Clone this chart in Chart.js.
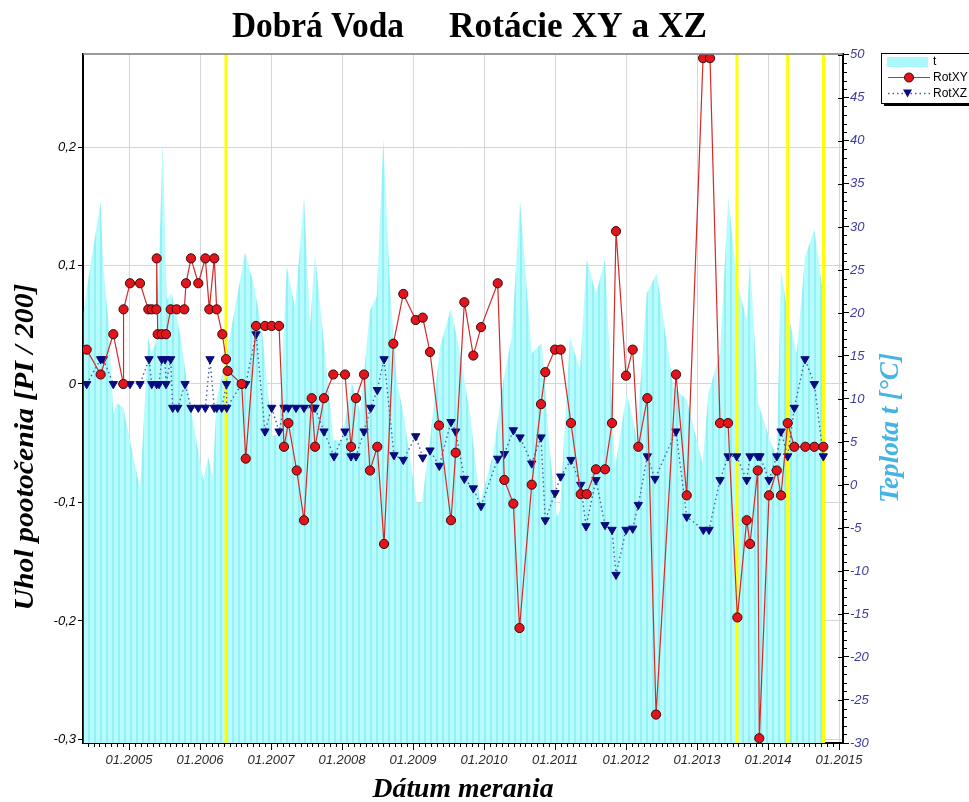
<!DOCTYPE html>
<html>
<head>
<meta charset="utf-8">
<title>Dobrá Voda - Rotácie XY a XZ</title>
<script src="https://cdn.jsdelivr.net/npm/chart.js@4.4.1/dist/chart.umd.min.js"></script>
<style>
    html, body { margin: 0; padding: 0; background: #fff; }
    #wrap { width: 969px; height: 802px; }
</style>
</head>
<body>
<div id="wrap"><canvas id="rotChart" width="969" height="802"></canvas></div>
<script>
// Casy su v desatinnych rokoch (2005.5 = polovica roka 2005)
const rotXYTime = [2004.404, 2004.601, 2004.779, 2004.920, 2004.923, 2005.014, 2005.155, 2005.272, 2005.320, 2005.385,
    2005.390, 2005.404, 2005.461, 2005.521, 2005.587, 2005.672, 2005.779, 2005.803, 2005.873, 2005.976,
    2006.075, 2006.131, 2006.201, 2006.235, 2006.314, 2006.366, 2006.390, 2006.587, 2006.644, 2006.789,
    2006.915, 2007.010, 2007.113, 2007.183, 2007.244, 2007.362, 2007.465, 2007.573, 2007.620, 2007.746,
    2007.877, 2008.042, 2008.127, 2008.197, 2008.310, 2008.394, 2008.497, 2008.592, 2008.723, 2008.863,
    2009.038, 2009.137, 2009.239, 2009.366, 2009.535, 2009.601, 2009.723, 2009.849, 2009.958, 2010.193,
    2010.286, 2010.413, 2010.500, 2010.672, 2010.803, 2010.863, 2011.000, 2011.080, 2011.225, 2011.362,
    2011.446, 2011.577, 2011.704, 2011.803, 2011.859, 2012.000, 2012.094, 2012.173, 2012.300, 2012.423,
    2012.704, 2012.855, 2013.085, 2013.183, 2013.324, 2013.437, 2013.568, 2013.700, 2013.746, 2013.855,
    2013.877, 2014.014, 2014.123, 2014.183, 2014.277, 2014.370, 2014.525, 2014.652, 2014.779];
const rotXYValue = [0.029, 0.008, 0.042, 0.000, 0.063, 0.085, 0.085, 0.063, 0.063, 0.063,
    0.106, 0.042, 0.042, 0.042, 0.063, 0.063, 0.063, 0.085, 0.106, 0.085,
    0.106, 0.063, 0.106, 0.063, 0.042, 0.021, 0.011, 0.000, -0.063, 0.049,
    0.049, 0.049, 0.049, -0.053, -0.033, -0.073, -0.115, -0.012, -0.053, -0.012,
    0.008, 0.008, -0.053, -0.012, 0.008, -0.073, -0.053, -0.135, 0.034, 0.076,
    0.054, 0.056, 0.027, -0.035, -0.115, -0.058, 0.069, 0.024, 0.048, 0.085,
    -0.081, -0.101, -0.206, -0.085, -0.017, 0.010, 0.029, 0.029, -0.033, -0.093,
    -0.093, -0.072, -0.072, -0.033, 0.129, 0.007, 0.029, -0.053, -0.012, -0.279,
    0.008, -0.094, 0.275, 0.275, -0.033, -0.033, -0.197, -0.115, -0.135, -0.073,
    -0.299, -0.094, -0.073, -0.094, -0.033, -0.053, -0.053, -0.053, -0.053];

const rotXZTime = [2004.404, 2004.601, 2004.638, 2004.779, 2004.920, 2005.014, 2005.155, 2005.282, 2005.320, 2005.390,
    2005.423, 2005.461, 2005.507, 2005.521, 2005.587, 2005.615, 2005.686, 2005.789, 2005.873, 2005.976,
    2006.075, 2006.141, 2006.201, 2006.235, 2006.306, 2006.373, 2006.376, 2006.587, 2006.644, 2006.789,
    2006.915, 2007.010, 2007.113, 2007.183, 2007.244, 2007.352, 2007.465, 2007.587, 2007.620, 2007.746,
    2007.887, 2008.042, 2008.127, 2008.197, 2008.310, 2008.404, 2008.497, 2008.592, 2008.732, 2008.863,
    2009.038, 2009.137, 2009.239, 2009.370, 2009.535, 2009.601, 2009.723, 2009.849, 2009.958, 2010.193,
    2010.286, 2010.413, 2010.507, 2010.672, 2010.803, 2010.863, 2011.000, 2011.080, 2011.225, 2011.362,
    2011.437, 2011.577, 2011.704, 2011.803, 2011.859, 2012.000, 2012.094, 2012.173, 2012.300, 2012.408,
    2012.704, 2012.855, 2013.089, 2013.169, 2013.324, 2013.437, 2013.559, 2013.700, 2013.746, 2013.855,
    2013.887, 2014.014, 2014.123, 2014.183, 2014.277, 2014.370, 2014.521, 2014.652, 2014.779];
const rotXZValue = [0, 0.021, 0.021, 0, 0, 0, 0, 0.021, 0, 0,
    0, 0.021, 0.021, 0, 0.021, -0.020, -0.020, 0, -0.020, -0.020,
    -0.020, 0.021, -0.020, -0.020, -0.020, 0, -0.020, 0, 0, 0.042,
    -0.040, -0.020, -0.040, -0.020, -0.020, -0.020, -0.020, -0.020, -0.020, -0.040,
    -0.061, -0.040, -0.061, -0.061, -0.040, -0.020, -0.005, 0.021, -0.060, -0.064,
    -0.044, -0.062, -0.056, -0.069, -0.032, -0.040, -0.080, -0.088, -0.103, -0.063,
    -0.059, -0.039, -0.045, -0.067, -0.045, -0.115, -0.092, -0.078, -0.064, -0.085,
    -0.120, -0.081, -0.119, -0.123, -0.161, -0.123, -0.122, -0.102, -0.061, -0.080,
    -0.040, -0.112, -0.123, -0.123, -0.081, -0.061, -0.061, -0.081, -0.061, -0.061,
    -0.061, -0.081, -0.061, -0.040, -0.061, -0.020, 0.021, 0, -0.061];

const tempTime = [2004.359, 2004.408, 2004.601, 2004.634, 2004.708, 2004.779, 2004.831, 2004.920, 2005.155, 2005.272,
    2005.317, 2005.390, 2005.475, 2005.531, 2005.601, 2005.718, 2005.859, 2006.046, 2006.117, 2006.179,
    2006.235, 2006.376, 2006.634, 2006.751, 2006.869, 2007.014, 2007.113, 2007.221, 2007.338, 2007.465,
    2007.549, 2007.620, 2007.761, 2007.877, 2007.996, 2008.137, 2008.254, 2008.394, 2008.489, 2008.582,
    2008.676, 2008.770, 2008.863, 2009.052, 2009.123, 2009.239, 2009.380, 2009.535, 2009.662, 2009.803,
    2009.944, 2010.131, 2010.272, 2010.390, 2010.507, 2010.672, 2010.813, 2010.930, 2011.024, 2011.070,
    2011.211, 2011.352, 2011.446, 2011.577, 2011.704, 2011.845, 2012.010, 2012.151, 2012.292, 2012.432,
    2012.666, 2012.855, 2013.080, 2013.159, 2013.324, 2013.441, 2013.559, 2013.700, 2013.746, 2013.863,
    2014.028, 2014.123, 2014.183, 2014.263, 2014.404, 2014.521, 2014.652, 2014.779];
const tempValue = [20, 23, 33, 25.8, 19.2, 8.3, 9.5, 9, -0.5, 17.2,
    15.3, 16.9, 40.1, 21.5, 22.3, 17.7, 9.5, 0.6, 3.2, 1,
    10, 15.3, 27, 23.5, 18.4, 5.6, 6, 25.4, 20.7, 33.5,
    18.4, 26.9, 15.3, 5.2, 5.2, 11.9, 8.4, 20.3, 21.9, 40.1,
    23.1, 12.2, 8.4, -2.1, -2.1, 5.2, 16.1, 20.5, 15.3, 8.3,
    -2.1, 3.7, 12.2, 17.2, 33.1, 15.3, 16.5, 3.7, -3.7, -2.9,
    17.2, 13.4, 26.2, 22.3, 26.2, 2, 10.7, 5.6, 22.3, 24.6,
    11.4, 9.9, 2.5, 10.7, 15.3, 33.5, 23.8, 19.2, 26.2, 9.5,
    5.2, 3.3, 25, 20.7, 15.3, 26.5, 29.7, 21.9];

// zlte zvisle ciary (udalosti)
const markerTime = [2006.366, 2013.563, 2014.277, 2014.782];

const yearTicks = [2005, 2006, 2007, 2008, 2009, 2010, 2011, 2012, 2013, 2014, 2015];
const rotTicks = [-0.3, -0.2, -0.1, 0, 0.1, 0.2];
const tempTicks = [-30, -25, -20, -15, -10, -5, 0, 5, 10, 15, 20, 25, 30, 35, 40, 45, 50];

const toPoints = (xs, ys) => xs.map((x, i) => ({ x: x, y: ys[i] }));

// vzor s jemnymi zvislymi pruhmi pre plochu teploty
function stripePattern(ctx) {
    const c = document.createElement('canvas');
    c.width = 6; c.height = 4;
    const g = c.getContext('2d');
    g.fillStyle = 'rgb(182,252,252)';
    g.fillRect(0, 0, 6, 4);
    g.fillStyle = 'rgb(148,240,244)';
    g.fillRect(4, 0, 2, 4);
    return ctx.createPattern(c, 'repeat');
}

function drawFitted(ctx, text, cx, cy, targetW, font, color, angle) {
    ctx.save();
    ctx.font = font;
    const w = ctx.measureText(text).width;
    ctx.translate(cx, cy);
    ctx.rotate(angle || 0);
    ctx.scale(targetW / w, 1);
    ctx.fillStyle = color;
    ctx.textAlign = 'center';
    ctx.textBaseline = 'alphabetic';
    ctx.fillText(text, 0, 0);
    ctx.restore();
}

const decorPlugin = {
    id: 'decor',
    beforeDraw(chart) {
        const ctx = chart.ctx;
        ctx.save();
        ctx.fillStyle = '#fff';
        ctx.fillRect(0, 0, chart.width, chart.height);
        ctx.restore();
    },
    afterDatasetDraw(chart, args) {
        // zlte ciary hned nad plochou teploty
        if (args.index !== 0) return;
        const ctx = chart.ctx;
        const area = chart.chartArea;
        const xs = chart.scales.x;
        ctx.save();
        ctx.strokeStyle = '#ffff00';
        ctx.lineWidth = 3;
        markerTime.forEach(t => {
            const px = xs.getPixelForValue(t);
            ctx.beginPath();
            ctx.moveTo(px, area.top);
            ctx.lineTo(px, area.bottom);
            ctx.stroke();
        });
        ctx.restore();
    },
    afterDraw(chart) {
        const ctx = chart.ctx;
        const area = chart.chartArea;
        const xs = chart.scales.x;
        const yt = chart.scales.yT;
        ctx.save();

        // horny okraj
        ctx.strokeStyle = '#7a7a7a';
        ctx.lineWidth = 1.5;
        ctx.beginPath();
        ctx.moveTo(area.left, area.top);
        ctx.lineTo(area.right, area.top);
        ctx.stroke();

        // mesacne znacky na osi x
        ctx.strokeStyle = '#000';
        ctx.lineWidth = 1;
        for (let m = Math.ceil(xs.min * 12); m <= Math.floor(xs.max * 12); m++) {
            if (m % 12 === 0) continue;
            const px = Math.round(xs.getPixelForValue(m / 12)) + 0.5;
            ctx.beginPath();
            ctx.moveTo(px, area.bottom);
            ctx.lineTo(px, area.bottom + 4);
            ctx.stroke();
        }

        // pomocne znacky na pravej osi
        for (let v = -30; v <= 50; v++) {
            const py = Math.round(yt.getPixelForValue(v)) + 0.5;
            ctx.beginPath();
            if (v % 5 === 0) {
                ctx.moveTo(area.right - 5, py);
                ctx.lineTo(area.right, py);
            } else {
                ctx.moveTo(area.right, py);
                ctx.lineTo(area.right + 4, py);
            }
            ctx.stroke();
        }

        // nadpisy
        const serifB = 'bold 35px "Liberation Serif"';
        drawFitted(ctx, 'Dobrá Voda', 318, 37, 172, serifB, '#000', 0);
        drawFitted(ctx, 'Rotácie XY a XZ', 578, 37, 258, serifB, '#000', 0);
        const serifBI = 'italic bold 28px "Liberation Serif"';
        drawFitted(ctx, 'Dátum merania', 463, 797, 181, serifBI, '#000', 0);
        drawFitted(ctx, 'Uhol pootočenia [PI / 200]', 33, 447, 327, serifBI, '#000', -Math.PI / 2);
        drawFitted(ctx, 'Teplota t [°C]', 898, 428, 150, serifBI, '#45b4e4', -Math.PI / 2);

        // legenda
        const lx = 881, ly = 53, lw = 100, lh = 50;
        ctx.fillStyle = '#000';
        ctx.fillRect(lx + 3, ly + 3, lw, lh);
        ctx.fillStyle = '#fff';
        ctx.fillRect(lx, ly, lw, lh);
        ctx.strokeStyle = '#000';
        ctx.lineWidth = 1;
        ctx.strokeRect(lx + 0.5, ly + 0.5, lw, lh);

        ctx.fillStyle = 'rgb(170,248,250)';
        ctx.fillRect(887, 57, 41, 10);

        ctx.strokeStyle = '#d42a2a';
        ctx.lineWidth = 1.2;
        ctx.beginPath();
        ctx.moveTo(888, 77.5);
        ctx.lineTo(930, 77.5);
        ctx.stroke();
        ctx.beginPath();
        ctx.arc(909, 77.5, 4.5, 0, Math.PI * 2);
        ctx.fillStyle = '#e3141b';
        ctx.fill();
        ctx.strokeStyle = '#3a0a0a';
        ctx.lineWidth = 1;
        ctx.stroke();

        ctx.strokeStyle = '#4060a8';
        ctx.lineWidth = 1.4;
        ctx.setLineDash([1.5, 3]);
        ctx.beginPath();
        ctx.moveTo(888, 93.5);
        ctx.lineTo(930, 93.5);
        ctx.stroke();
        ctx.setLineDash([]);
        ctx.fillStyle = '#0a0a80';
        ctx.beginPath();
        ctx.moveTo(903, 89.5);
        ctx.lineTo(912, 89.5);
        ctx.lineTo(907.5, 97.5);
        ctx.closePath();
        ctx.fill();

        ctx.fillStyle = '#000';
        ctx.font = '12px "Liberation Sans"';
        ctx.textAlign = 'left';
        ctx.textBaseline = 'middle';
        ctx.fillText('t', 933, 62);
        ctx.fillText('RotXY', 933, 78);
        ctx.fillText('RotXZ', 933, 94);

        ctx.restore();
    }
};

function initRotationChart() {
    const ctx = document.getElementById('rotChart').getContext('2d');
    const tickFont = { family: '"Liberation Sans"', size: 13, style: 'italic' };

    new Chart(ctx, {
        type: 'line',
        data: {
            datasets: [{
                label: 't',
                data: toPoints(tempTime, tempValue),
                yAxisID: 'yT',
                order: 3,
                fill: 'start',
                backgroundColor: stripePattern(ctx),
                borderWidth: 0,
                pointRadius: 0,
                tension: 0
            }, {
                label: 'RotXZ',
                data: toPoints(rotXZTime, rotXZValue),
                yAxisID: 'y',
                order: 2,
                borderColor: '#4060a8',
                borderWidth: 1.4,
                borderDash: [1.5, 3],
                pointStyle: 'triangle',
                pointRotation: 180,
                pointRadius: 4.8,
                pointBackgroundColor: '#0a0a80',
                pointBorderColor: '#0a0a80',
                pointBorderWidth: 1,
                tension: 0
            }, {
                label: 'RotXY',
                data: toPoints(rotXYTime, rotXYValue),
                yAxisID: 'y',
                order: 1,
                borderColor: '#d42a2a',
                borderWidth: 1.2,
                pointStyle: 'circle',
                pointRadius: 4.6,
                pointBackgroundColor: '#e3141b',
                pointBorderColor: '#3a0a0a',
                pointBorderWidth: 1,
                tension: 0
            }]
        },
        options: {
            responsive: false,
            animation: false,
            layout: { padding: { top: 54, left: 0, right: 0, bottom: 0 } },
            plugins: {
                legend: { display: false },
                title: { display: false },
                tooltip: { enabled: false }
            },
            scales: {
                x: {
                    type: 'linear',
                    min: 2004.352,
                    max: 2015.056,
                    afterBuildTicks: s => { s.ticks = yearTicks.map(v => ({ value: v })); },
                    afterFit: s => { s.height = 59; },
                    grid: { color: '#d6d6d6', lineWidth: 1, tickColor: '#000', tickLength: 7 },
                    border: { color: '#000', width: 2 },
                    ticks: {
                        font: tickFont,
                        color: '#2a2a2a',
                        maxRotation: 0,
                        autoSkip: false,
                        padding: 3,
                        callback: v => '01.' + v
                    }
                },
                y: {
                    position: 'left',
                    min: -0.303,
                    max: 0.2785,
                    afterBuildTicks: s => { s.ticks = rotTicks.map(v => ({ value: v })); },
                    afterFit: s => { s.width = 83; },
                    grid: { color: '#d6d6d6', lineWidth: 1, tickColor: '#000', tickLength: 5 },
                    border: { color: '#000', width: 2 },
                    ticks: {
                        font: tickFont,
                        color: '#000',
                        padding: 2,
                        callback: v => v === 0 ? '0' : v.toFixed(1).replace('.', ',')
                    }
                },
                yT: {
                    position: 'right',
                    min: -30,
                    max: 50.1,
                    afterBuildTicks: s => { s.ticks = tempTicks.map(v => ({ value: v })); },
                    afterFit: s => { s.width = 126; },
                    grid: { drawOnChartArea: false, tickColor: '#000', tickLength: 6 },
                    border: { color: '#000', width: 2 },
                    ticks: {
                        font: tickFont,
                        color: '#3c3ca0',
                        padding: 1,
                        callback: v => String(v)
                    }
                }
            }
        },
        plugins: [decorPlugin]
    });
}

document.addEventListener('DOMContentLoaded', function() {
    initRotationChart();
});
</script>
</body>
</html>
